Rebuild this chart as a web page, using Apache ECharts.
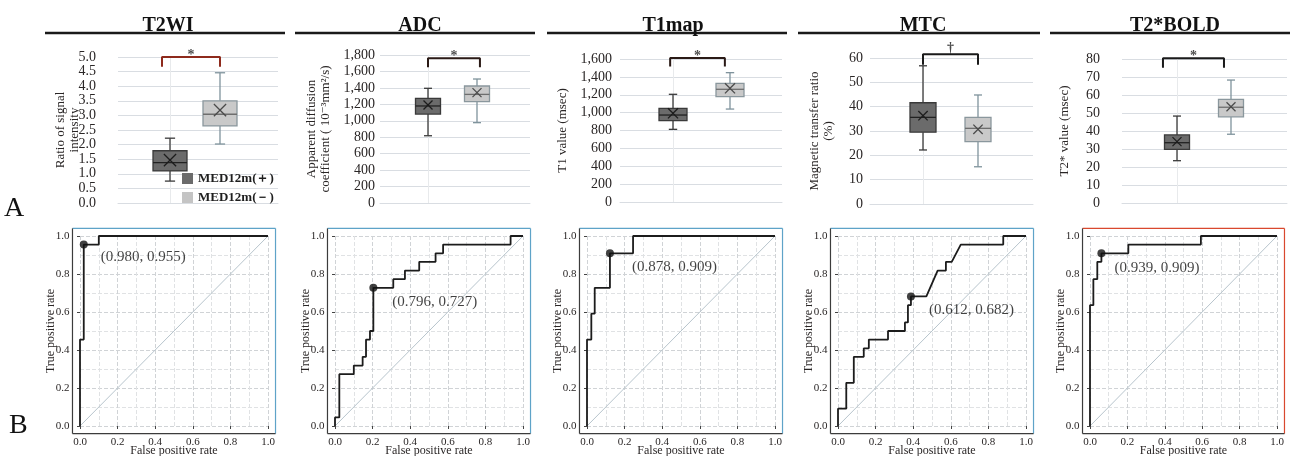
<!DOCTYPE html>
<html><head><meta charset="utf-8">
<script src="https://cdn.jsdelivr.net/npm/echarts@6/dist/echarts.min.js"></script>
<style>html,body{margin:0;padding:0;background:#fff}#c{width:1291px;height:456px}</style>
</head><body><div id="c"></div>
<script>
// ================= DATA =================
const panelTitles = ['T2WI', 'ADC', 'T1map', 'MTC', 'T2*BOLD'];
const groupNames = ['MED12m(＋)', 'MED12m(－)'];
const boxYTitles = ['Ratio of signal\nintensity', 'Apparent diffusion\ncoefficient ( 10⁻³mm²/s)', 'T1 value (msec)', 'Magnetic transfer ratio\n(%)', 'T2* value (msec)'];
const boxYMax = [5, 1800, 1600, 60, 80];
const boxYStep = [0.5, 200, 200, 10, 10];
// [low whisker, Q1, median, Q3, high whisker, mean]
const t2wiPos = [0.75, 1.10, 1.38, 1.79, 2.22, 1.47];
const t2wiNeg = [2.02, 2.64, 3.04, 3.50, 4.46, 3.18];
const adcPos = [818, 1082, 1180, 1273, 1395, 1192];
const adcNeg = [977, 1232, 1321, 1423, 1508, 1342];
const t1Pos = [813, 910, 973, 1048, 1205, 992];
const t1Neg = [1040, 1178, 1261, 1328, 1447, 1272];
const mtcPos = [22.2, 29.5, 35.6, 41.6, 56.8, 36.3];
const mtcNeg = [15.3, 25.6, 31.1, 35.6, 44.8, 30.7];
const boldPos = [23.5, 29.8, 33.5, 37.8, 48.3, 34.1];
const boldNeg = [38.2, 47.9, 53.2, 57.6, 68.3, 53.5];
const sigMarks = ['*', '*', '*', '†', '*'];
const sigTop = [5.0, 1760, 1612, 61.5, 80.4];
const sigLeg = [4.67, 1650, 1515, 57.2, 75.2];

// ROC curves: [false positive rate, true positive rate]
const rocT2WI = [[0,0],[0,0.455],[0.02,0.455],[0.02,0.955],[0.1,0.955],[0.1,1],[1,1]];
const rocADC = [[0,0],[0,0.045],[0.023,0.045],[0.023,0.273],[0.1,0.273],[0.1,0.318],[0.147,0.318],[0.147,0.364],[0.165,0.364],[0.165,0.455],[0.186,0.455],[0.186,0.5],[0.204,0.5],[0.204,0.727],[0.31,0.727],[0.31,0.773],[0.372,0.773],[0.372,0.818],[0.448,0.818],[0.448,0.864],[0.535,0.864],[0.535,0.909],[0.575,0.909],[0.575,0.955],[0.934,0.955],[0.934,1],[1,1]];
const rocT1 = [[0,0],[0,0.455],[0.023,0.455],[0.023,0.591],[0.041,0.591],[0.041,0.727],[0.122,0.727],[0.122,0.909],[0.245,0.909],[0.245,1],[1,1]];
const rocMTC = [[0,0],[0,0.091],[0.044,0.091],[0.044,0.227],[0.084,0.227],[0.084,0.364],[0.137,0.364],[0.137,0.409],[0.164,0.409],[0.164,0.455],[0.266,0.455],[0.266,0.5],[0.356,0.5],[0.356,0.545],[0.372,0.545],[0.372,0.636],[0.388,0.636],[0.388,0.682],[0.47,0.682],[0.53,0.818],[0.574,0.818],[0.574,0.864],[0.605,0.864],[0.653,0.955],[0.879,0.955],[0.879,1],[1,1]];
const rocBOLD = [[0,0],[0,0.636],[0.018,0.636],[0.018,0.773],[0.039,0.773],[0.039,0.864],[0.061,0.864],[0.061,0.909],[0.205,0.909],[0.205,0.955],[0.593,0.955],[0.593,1],[1,1]];
const cutSpec = [0.980, 0.796, 0.878, 0.612, 0.939];
const cutSens = [0.955, 0.727, 0.909, 0.682, 0.909];
const rocAxisNames = ['False positive rate', 'True positive rate'];

// ================= LAYOUT =================
const FONT = "'Liberation Serif','Times New Roman','DejaVu Serif',serif";
const TXT = '#2a2626';
const boxStats = [[t2wiPos, t2wiNeg], [adcPos, adcNeg], [t1Pos, t1Neg], [mtcPos, mtcNeg], [boldPos, boldNeg]];
const rocCurves = [rocT2WI, rocADC, rocT1, rocMTC, rocBOLD];
const boxLayout = [
  {L:118, R:278, T:57, B:203, c0:170, c1:220, bw:34, lm:22, ng:36, bx:[-0.16, 1.0], sd:-6},
  {L:380, R:530, T:55, B:203, c0:428, c1:477, bw:25, lm:5, ng:47, bx:[0, 1.06], sd:-6},
  {L:620, R:782, T:59, B:202, c0:673, c1:730, bw:28, lm:8, ng:50, bx:[-0.05, 0.91], sd:-6},
  {L:870, R:1033, T:58, B:204, c0:923, c1:978, bw:26, lm:7, ng:34, bx:[0, 1.0], sd:-2},
  {L:1122, R:1287, T:59, B:203, c0:1177, c1:1231, bw:25, lm:22, ng:50, bx:[-0.26, 0.87], sd:-6}
];
const rocLayout = [{x0:80, x1:268}, {x0:335, x1:523}, {x0:587, x1:775}, {x0:838, x1:1026}, {x0:1090, x1:1277}];
const rocTop = 236, rocBottom = 426, EXP = 0.04;
const labelOffsets = [[21, 17], [23, 18], [26, 18], [22, 18], [17, 19]];
const frameAccent = ['#5ea3c8', '#5ea3c8', '#5ea3c8', '#5ea3c8', '#d9482e'];
const titleCenters = [163, 415, 668, 918, 1170];
const underlines = [[45, 285], [295, 535], [547, 787], [798, 1040], [1050, 1290]];
const bracketColors = ['#8e2a1c', '#2a1a16', '#2a1a16', '#1a1a1a', '#1a1a1a'];
const palettes = [
  {fill:'#6b6b6b', stroke:'#3a3a3a', whisker:'#3a3a3a', median:'#222', x:'#1c1c1c'},
  {fill:'#c9c9c9', stroke:'#8a979d', whisker:'#7f939c', median:'#6e6e6e', x:'#4a4a4a'}
];

function boxRenderer(bw, pal) {
  return function (params, api) {
    const xv = api.value(0);
    const c = i => api.coord([xv, api.value(i)]);
    const lo = c(1), q1 = c(2), md = c(3), q3 = c(4), hi = c(5), mn = c(6);
    const cx = lo[0], hw = bw / 2, cap = Math.max(4, bw * 0.15), xs = Math.max(4.5, bw * 0.18);
    const ln = (x1, y1, x2, y2, col, w) => ({type:'line', shape:{x1, y1, x2, y2}, style:{stroke:col, lineWidth:w}});
    return {type:'group', children:[
      ln(cx, hi[1], cx, q3[1], pal.whisker, 1.3),
      ln(cx, q1[1], cx, lo[1], pal.whisker, 1.3),
      ln(cx - cap, hi[1], cx + cap, hi[1], pal.whisker, 1.3),
      ln(cx - cap, lo[1], cx + cap, lo[1], pal.whisker, 1.3),
      {type:'rect', shape:{x:cx - hw, y:q3[1], width:bw, height:q1[1] - q3[1]}, style:{fill:pal.fill, stroke:pal.stroke, lineWidth:1.3}},
      ln(cx - hw, md[1], cx + hw, md[1], pal.median, 1.3),
      ln(cx - xs, mn[1] - xs, cx + xs, mn[1] + xs, pal.x, 1.3),
      ln(cx - xs, mn[1] + xs, cx + xs, mn[1] - xs, pal.x, 1.3)
    ]};
  };
}

const grid = [], xAxis = [], yAxis = [], series = [], title = [], graphic = [];

boxLayout.forEach((b, i) => {
  const unit = b.c1 - b.c0;
  grid.push({left:b.L, top:b.T, width:b.R - b.L, height:b.B - b.T, outerBoundsMode:'none', containLabel:false});
  xAxis.push({gridIndex:i, type:'value', min:-(b.c0 - b.L) / unit, max:1 + (b.R - b.c1) / unit,
    axisLine:{show:true, lineStyle:{color:'#d9dde2'}}, axisTick:{show:false}, axisLabel:{show:false}, splitLine:{show:false}});
  yAxis.push({gridIndex:i, type:'value', min:0, max:boxYMax[i], interval:boxYStep[i],
    axisLine:{show:true, lineStyle:{color:'#e8eaec'}}, axisTick:{show:false},
    axisLabel:{margin:b.lm, fontFamily:FONT, fontSize:14, color:TXT,
      formatter: v => i === 0 ? v.toFixed(1) : v.toLocaleString('en-US')},
    splitLine:{show:true, lineStyle:{color:'#d9dde2', width:1}},
    name:boxYTitles[i], nameLocation:'middle', nameGap:b.ng, nameMoveOverlap:false,
    nameTextStyle:{fontFamily:FONT, fontSize:13, color:TXT, lineHeight:14}});
  [0, 1].forEach(g => {
    series.push({type:'custom', name:groupNames[g], xAxisIndex:i, yAxisIndex:i, silent:true, z:3,
      itemStyle:{color:palettes[g].fill},
      renderItem:boxRenderer(b.bw, palettes[g]),
      encode:{x:0, y:[1, 2, 3, 4, 5]},
      data:[[g].concat(boxStats[i][g])]});
  });
  // significance bracket
  series.push({type:'line', xAxisIndex:i, yAxisIndex:i, silent:true, symbol:'none', z:4, clip:false,
    lineStyle:{color:bracketColors[i], width:2},
    data:[[b.bx[0], sigLeg[i]], [b.bx[0], sigTop[i]], [b.bx[1], sigTop[i]], [b.bx[1], sigLeg[i]]]});
  series.push({type:'scatter', xAxisIndex:i, yAxisIndex:i, silent:true, symbolSize:1, clip:false,
    itemStyle:{color:'rgba(0,0,0,0)'},
    label:{show:true, position:'top', distance:b.sd, formatter:sigMarks[i], fontFamily:FONT, fontSize:14, fontWeight:'bold', color:'#1a1a1a'},
    data:[[(b.bx[0] + b.bx[1]) / 2, sigTop[i]]]});
  title.push({text:panelTitles[i], left:titleCenters[i], top:11, textAlign:'center',
    textStyle:{fontFamily:FONT, fontSize:20, fontWeight:'bold', color:'#111'}});
  graphic.push({type:'line', shape:{x1:underlines[i][0], y1:33, x2:underlines[i][1], y2:33}, style:{stroke:'#1a1a1a', lineWidth:2.5}});
});

rocLayout.forEach((r, k) => {
  const gi = 5 + k;
  const w = r.x1 - r.x0, h = rocBottom - rocTop;
  grid.push({left:r.x0, top:rocTop, width:w, height:h, outerBoundsMode:'none', containLabel:false});
  const common = {gridIndex:gi, type:'value', min:0, max:1, interval:0.2,
    axisLine:{show:false}, axisTick:{show:true, length:3, lineStyle:{color:'#444'}},
    axisLabel:{fontFamily:FONT, fontSize:11, color:TXT, margin:3, formatter:v => v.toFixed(1)},
    splitLine:{show:true, lineStyle:{color:'#d0d3d6', type:'dashed', width:1}},
    minorTick:{show:false, splitNumber:2},
    minorSplitLine:{show:true, lineStyle:{color:'#e0e2e4', type:'dashed', width:1}},
    nameLocation:'middle', nameMoveOverlap:false, nameTextStyle:{fontFamily:FONT, fontSize:12, color:TXT}};
  xAxis.push(Object.assign({}, common, {offset:EXP * w, name:rocAxisNames[0], nameGap:11}));
  yAxis.push(Object.assign({}, common, {offset:EXP * w, name:rocAxisNames[1], nameGap:16}));
  // frame drawn through the axis scales at the expanded limits
  series.push({type:'custom', xAxisIndex:gi, yAxisIndex:gi, silent:true, clip:false, z:1,
    renderItem:(params, api) => {
      const a = api.coord([-EXP, -EXP]), bb = api.coord([1 + EXP, 1 + EXP]);
      const ln = (x1, y1, x2, y2, col) => ({type:'line', shape:{x1, y1, x2, y2}, style:{stroke:col, lineWidth:1.2}});
      return {type:'group', children:[
        ln(a[0], bb[1], bb[0], bb[1], frameAccent[k]),
        ln(bb[0], bb[1], bb[0], a[1], frameAccent[k]),
        ln(a[0], bb[1], a[0], a[1], '#3c3c3c'),
        ln(a[0], a[1], bb[0], a[1], '#3c3c3c')
      ]};
    },
    data:[[0, 0]]});
  series.push({type:'line', xAxisIndex:gi, yAxisIndex:gi, silent:true, symbol:'none', z:2,
    lineStyle:{color:'#b7c4cc', width:1}, data:[[0, 0], [1, 1]]});
  series.push({type:'line', xAxisIndex:gi, yAxisIndex:gi, silent:true, symbol:'none', z:3,
    lineStyle:{color:'#1c1c1c', width:1.8}, data:rocCurves[k]});
  series.push({type:'scatter', xAxisIndex:gi, yAxisIndex:gi, silent:true, symbolSize:8, z:4,
    itemStyle:{color:'#111'},
    label:{show:true, position:labelOffsets[k], align:'left', verticalAlign:'middle',
      fontFamily:FONT, fontSize:15, color:'#111',
      formatter:() => '(' + cutSpec[k].toFixed(3) + ', ' + cutSens[k].toFixed(3) + ')'},
    data:[[1 - cutSpec[k], cutSens[k]]]});
});

graphic.push({type:'text', left:4, top:195, style:{text:'A', font:"28px 'Liberation Serif', serif", fill:'#111'}});
graphic.push({type:'text', left:9, top:412, style:{text:'B', font:"28px 'Liberation Serif', serif", fill:'#111'}});

const chart = echarts.init(document.getElementById('c'), null, {renderer:'canvas'});
chart.setOption({
  animation:false,
  backgroundColor:'#fff',
  title, grid, xAxis, yAxis, series, graphic,
  legend:{left:182, top:172, padding:0, orient:'vertical', icon:'rect', itemWidth:11, itemHeight:11, itemGap:6,
    selectedMode:false,
    data:[{name:groupNames[0], itemStyle:{color:'#6b6b6b'}}, {name:groupNames[1], itemStyle:{color:'#c4c4c4'}}],
    textStyle:{fontFamily:FONT, fontWeight:'bold', fontSize:13, color:'#1e1e1e'}}
});
</script>
</body></html>
